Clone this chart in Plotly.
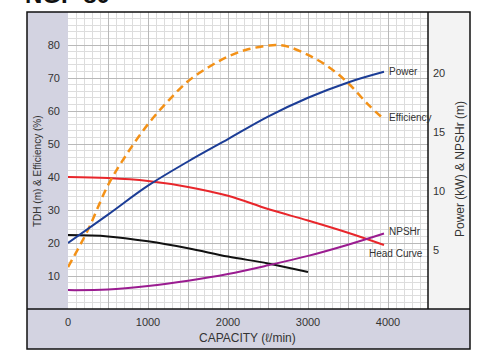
import plotly.graph_objects as go

# ---- data ----
cap_head = [0, 500, 1000, 1500, 2000, 2500, 3000, 3500, 3950]
head = [40, 39.7, 38.8, 37.0, 34.3, 30.3, 26.8, 23.1, 19.4]

cap_eff = [0, 250, 500, 750, 1000, 1250, 1500, 1750, 2000, 2250, 2500, 2600,
           2750, 3000, 3250, 3500, 3750, 3950]
efficiency = [12.7, 24, 37.5, 47.5, 56, 63, 69, 73.2, 76.5, 78.7, 79.8, 80,
              79.5, 77, 73.5, 68.5, 62, 57.5]

cap_power = [0, 500, 1000, 1500, 2000, 2500, 3000, 3500, 3950]
power = [5.6, 8.0, 10.45, 12.5, 14.4, 16.3, 17.9, 19.2, 20.1]

cap_black = [0, 500, 1000, 1500, 2000, 2500, 3000]
head_black = [22.4, 22.0, 20.5, 18.4, 15.9, 13.8, 11.2]

cap_npsh = [0, 500, 1000, 1500, 2000, 2500, 3000, 3500, 3950]
npshr = [1.6, 1.65, 1.95, 2.4, 2.97, 3.7, 4.5, 5.45, 6.4]

x_tickvals = [0, 500, 1000, 1500, 2000, 2500, 3000, 3500, 4000, 4500]
x_ticktext = ["0", "", "1000", "", "2000", "", "3000", "", "4000", ""]
y_left_ticks = [10, 20, 30, 40, 50, 60, 70, 80]
y_right_ticks = [5, 10, 15, 20]

RED = "#e8262b"
BLUE = "#1c3d96"
ORANGE = "#f39117"
BLACK = "#111111"
PURPLE = "#9a1c90"
LAV = "#d3d3e1"
SANS = "Liberation Sans, Arial"

fig = go.Figure()
fig.add_trace(go.Scatter(x=cap_black, y=head_black, mode="lines",
                         line=dict(color=BLACK, width=2, shape="spline"), yaxis="y"))
fig.add_trace(go.Scatter(x=cap_head, y=head, mode="lines",
                         line=dict(color=RED, width=2, shape="spline"), yaxis="y"))
fig.add_trace(go.Scatter(x=cap_npsh, y=npshr, mode="lines",
                         line=dict(color=PURPLE, width=2, shape="spline"), yaxis="y2"))
fig.add_trace(go.Scatter(x=cap_power, y=power, mode="lines",
                         line=dict(color=BLUE, width=2, shape="spline"), yaxis="y2"))
fig.add_trace(go.Scatter(x=cap_eff, y=efficiency, mode="lines",
                         line=dict(color=ORANGE, width=2.5, dash="8px,5px", shape="spline"),
                         yaxis="y"))

W, H = 477, 351
L, R, T, B = 68, 49, 12, 42
pw, ph = W - L - R, H - T - B


def px_x(p):
    return (p - L) / pw


def px_y(p):
    return (H - B - p) / ph


shapes = [
    dict(type="rect", xref="paper", yref="paper", x0=px_x(27), x1=0, y0=0, y1=1,
         fillcolor=LAV, line=dict(width=0), layer="below"),
    dict(type="rect", xref="paper", yref="paper", x0=px_x(27), x1=px_x(470),
         y0=px_y(349), y1=0, fillcolor=LAV, line=dict(width=0), layer="below"),
    dict(type="rect", xref="paper", yref="paper", x0=1, x1=px_x(470), y0=0, y1=1,
         fillcolor="#f3f3f3", line=dict(width=0), layer="below"),
    dict(type="rect", xref="paper", yref="paper", x0=px_x(27), x1=px_x(470),
         y0=px_y(349), y1=1, line=dict(color="#111", width=1.5), fillcolor="rgba(0,0,0,0)"),
    dict(type="line", xref="paper", yref="paper", x0=px_x(27), x1=px_x(470), y0=0, y1=0,
         line=dict(color="#111", width=1.5)),
    dict(type="line", xref="paper", yref="paper", x0=1, x1=1, y0=0, y1=1,
         line=dict(color="#111", width=1.5)),
]

lab_font = dict(family=SANS, size=10, color="#333")
annotations = [
    dict(text="Power", x=3990, y=20.1, xref="x", yref="y2", xanchor="left",
         yanchor="middle", showarrow=False, font=lab_font),
    dict(text="Efficiency", x=3990, y=58.0, xref="x", yref="y", xanchor="left",
         yanchor="middle", showarrow=False, font=lab_font),
    dict(text="NPSHr", x=3990, y=6.6, xref="x", yref="y2", xanchor="left",
         yanchor="middle", showarrow=False, font=lab_font),
    dict(text="Head Curve", x=3740, y=16.9, xref="x", yref="y", xanchor="left",
         yanchor="middle", showarrow=False, font=lab_font),
    dict(text="TDH (m) & Efficiency (%)", xref="paper", yref="paper",
         x=px_x(37), y=px_y(171), xanchor="center", yanchor="middle", textangle=-90,
         showarrow=False, font=dict(family=SANS, size=10, color="#333")),
    dict(text="Power (kW) & NPSHr (m)", xref="paper", yref="paper",
         x=px_x(460), y=px_y(169), xanchor="center", yanchor="middle", textangle=-90,
         showarrow=False, font=dict(family=SANS, size=12, color="#333")),
    dict(text="CAPACITY (ℓ/min)", xref="paper", yref="paper",
         x=px_x(247), y=px_y(338), xanchor="center", yanchor="middle",
         showarrow=False, font=dict(family=SANS, size=12, color="#333")),
    dict(text="<b>NGP 80</b>", xref="paper", yref="paper", x=px_x(23), y=px_y(-5),
         xanchor="left", yanchor="middle", showarrow=False,
         font=dict(family=SANS, size=24, color="#111")),
]

tick_font = dict(family=SANS, size=11, color="#333")
fig.update_layout(
    width=W, height=H,
    margin=dict(l=L, r=R, t=T, b=B, pad=0),
    paper_bgcolor="white", plot_bgcolor="white",
    showlegend=False,
    xaxis=dict(range=[0, 4500], tickmode="array", tickvals=x_tickvals, ticktext=x_ticktext,
               showgrid=True, gridcolor="#b9b9b9", gridwidth=1.2,
               minor=dict(dtick=100, tick0=0, showgrid=True, gridcolor="#dddddd", gridwidth=1.2),
               zeroline=False, showline=False, ticks="", tickfont=tick_font, ticklabelstandoff=5),
    yaxis=dict(range=[0, 90], tickmode="array", tickvals=y_left_ticks,
               showgrid=True, gridcolor="#b9b9b9", gridwidth=1.2,
               minor=dict(dtick=2, tick0=0, showgrid=True, gridcolor="#dddddd", gridwidth=1.2),
               zeroline=False, showline=False, ticks="", tickfont=tick_font, ticklabelstandoff=7),
    yaxis2=dict(range=[0, 25.17], overlaying="y", side="right", tickmode="array",
                tickvals=y_right_ticks, showgrid=False, zeroline=False, showline=False,
                ticks="", tickfont=tick_font, ticklabelstandoff=4),
    shapes=shapes,
    annotations=annotations,
)

fig.write_html(
    "out.html",
    config={"displayModeBar": False},
    post_script="document.body.style.margin='0';document.body.style.overflow='hidden';",
)
